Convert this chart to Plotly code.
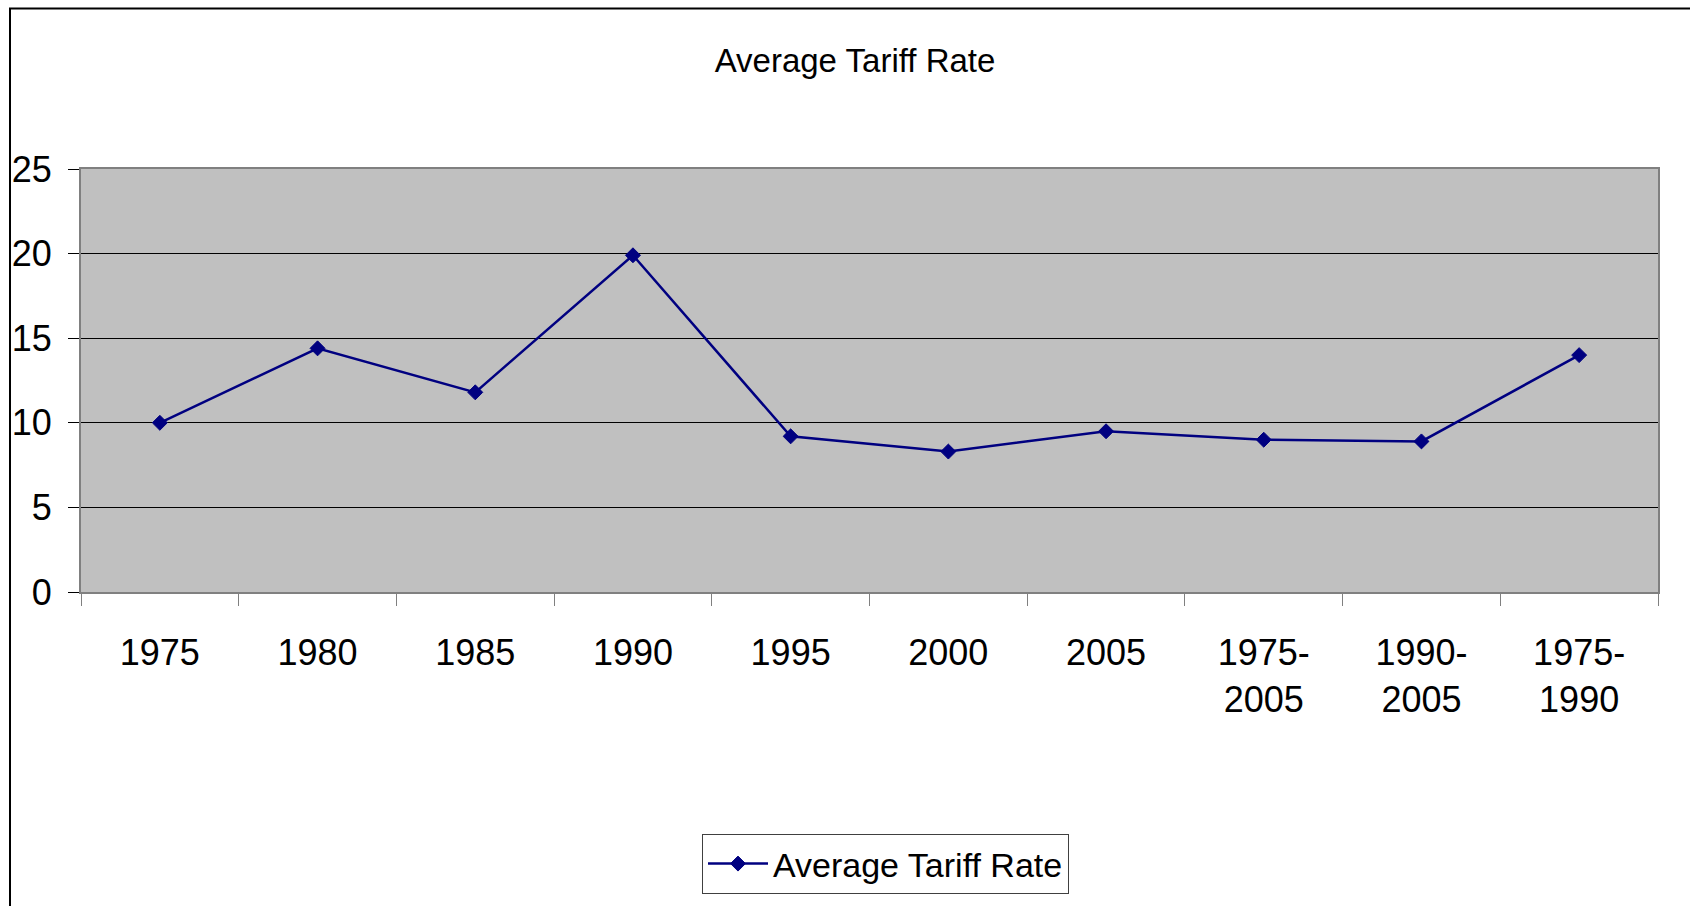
import plotly.graph_objects as go

categories = ["1975", "1980", "1985", "1990", "1995", "2000", "2005",
              "1975-2005", "1990-2005", "1975-1990"]
tick_labels = ["1975", "1980", "1985", "1990", "1995", "2000", "2005",
               "1975-<br>2005", "1990-<br>2005", "1975-<br>1990"]
tariff_rate = [10.0, 14.4, 11.8, 19.9, 9.2, 8.3, 9.5, 9.0, 8.9, 14.0]
y_ticks = [0, 5, 10, 15, 20, 25]

FONT = "Liberation Sans, Arial, sans-serif"
NAVY = "#000080"

# plot area in pixels
L, R, T, B = 81, 1658, 169, 592
W, H = 1690, 906
pw, ph = R - L, B - T

def px_x(x):
    return (x - L) / pw

def px_y(y):
    return (B - y) / ph

fig = go.Figure()
fig.add_trace(go.Scatter(
    x=categories, y=tariff_rate, mode="lines+markers",
    name="Average Tariff Rate",
    line=dict(color=NAVY, width=2.5),
    marker=dict(symbol="diamond", size=11.5, color=NAVY,
                line=dict(color=NAVY, width=1)),
))

fig.update_layout(
    width=W, height=H,
    margin=dict(l=L, r=W - R, t=T, b=H - B, autoexpand=False),
    paper_bgcolor="white",
    plot_bgcolor="#C0C0C0",
    font=dict(family=FONT, size=36, color="black"),
    title=dict(text="Average Tariff Rate", xref="paper", x=px_x(855),
               xanchor="center", yref="container", y=1 - 60 / H,
               yanchor="middle", font=dict(family=FONT, size=33, color="black")),
    showlegend=True,
    legend=dict(x=px_x(702), y=px_y(834), xanchor="left", yanchor="top",
                bordercolor="#404040", borderwidth=1, bgcolor="white",
                font=dict(family=FONT, size=34, color="black"),
                itemwidth=60),
    xaxis=dict(type="category", tickmode="array", tickvals=categories,
               ticktext=tick_labels, tickson="boundaries", showgrid=False,
               ticks="outside", ticklen=12, tickcolor="#808080", tickwidth=1,
               showline=True, linecolor="#808080", linewidth=2, mirror=True,
               ticklabelstandoff=28, range=[-0.5, 9.5]),
    yaxis=dict(range=[0, 25], tickmode="array", tickvals=y_ticks,
               showgrid=True, gridcolor="black", gridwidth=1, zeroline=False,
               ticks="outside", ticklen=11, tickcolor="black", tickwidth=1,
               showline=True, linecolor="#808080", linewidth=2, mirror=True,
               ticklabelstandoff=9),
    shapes=[dict(type="rect", xref="paper", yref="paper",
                 x0=px_x(10), x1=px_x(1720), y0=px_y(8.5), y1=px_y(960),
                 line=dict(color="black", width=2), fillcolor="rgba(0,0,0,0)",
                 layer="below")],
)

fig.write_html("out.html", config={"displayModeBar": False},
               post_script="document.body.style.margin='0';document.body.style.overflow='hidden';")
